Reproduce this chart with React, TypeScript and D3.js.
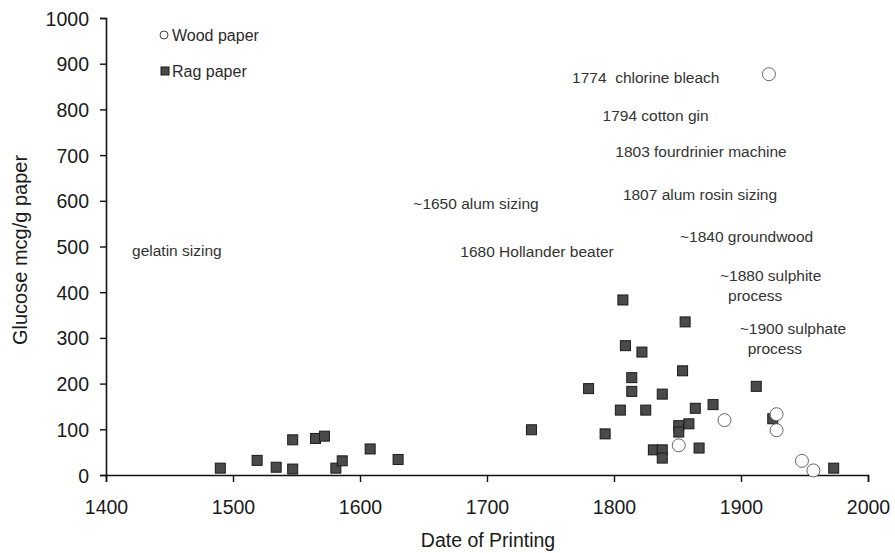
import React, { useEffect, useRef } from "react"
import * as d3 from "d3"

// rag paper samples (square markers)
const ragYears = [
  1490, 1519, 1534, 1547, 1547, 1565, 1572, 1581, 1586, 1608, 1630,
  1735, 1780, 1793, 1805, 1807, 1809, 1814, 1814, 1822, 1825, 1831,
  1838, 1838, 1838, 1851, 1851, 1854, 1856, 1859, 1864, 1867, 1878,
  1912, 1925, 1973,
]
const ragGlucose = [
  15, 32, 17, 77, 13, 80, 85, 15, 31, 57, 34,
  99, 189, 90, 142, 383, 283, 213, 183, 269, 142, 55,
  177, 55, 37, 108, 94, 228, 335, 112, 146, 59, 154,
  194, 123, 15,
]

// wood paper samples (open circles)
const woodYears = [1851, 1887, 1922, 1928, 1928, 1948, 1957]
const woodGlucose = [65, 120, 877, 133, 98, 31, 10]

const xTicks = [1400, 1500, 1600, 1700, 1800, 1900, 2000]
const yTicks = [0, 100, 200, 300, 400, 500, 600, 700, 800, 900, 1000]

// historical notes, anchored in (year, glucose) units
const noteText = [
  "1774  chlorine bleach",
  "1794 cotton gin",
  "1803 fourdrinier machine",
  "1807 alum rosin sizing",
  "~1840 groundwood",
  "~1880 sulphite",
  "~1900 sulphate",
  "~1650 alum sizing",
  "gelatin sizing",
  "1680 Hollander beater",
]
const noteYear = [1767, 1791, 1801, 1807, 1852, 1883.5, 1899, 1642, 1420.5, 1679]
const noteGlucose = [857, 774, 695, 602, 510, 424, 308, 582, 479, 477]
const noteSecondLine = ["", "", "", "", "", "process", "process", "", "", ""]

const W = 895
const H = 553
const FONT = "'Liberation Sans', Arial, sans-serif"

const drawChart = (el) => {
  d3.select(el).selectAll("*").remove()
  const svg = d3.select(el)

  const x = d3.scaleLinear().domain([1400, 2000]).range([106, 868])
  const y = d3.scaleLinear().domain([0, 1000]).range([475, 18])

  // axes
  const xAxis = svg
    .append("g")
    .attr("transform", `translate(0,${y(0)})`)
    .call(d3.axisBottom(x).tickValues(xTicks).tickFormat(d3.format("d")).tickSizeOuter(0).tickSize(7).tickPadding(18))
  const yAxis = svg
    .append("g")
    .attr("transform", `translate(${x(1400)},0)`)
    .call(d3.axisLeft(y).tickValues(yTicks).tickFormat(d3.format("d")).tickSizeOuter(0).tickSize(6).tickPadding(11))
  ;[xAxis, yAxis].forEach(g => {
    g.select(".domain").attr("stroke", "#111").attr("stroke-width", 1.6)
    g.selectAll(".tick line").attr("stroke", "#111").attr("stroke-width", 1.4)
    g.selectAll(".tick text")
      .attr("fill", "#1a1a1a")
      .style("font-family", FONT)
      .style("font-size", "19.5px")
  })
  yAxis.selectAll(".tick text").attr("dy", "0.36em")

  svg
    .append("text")
    .attr("x", 488)
    .attr("y", 547)
    .attr("text-anchor", "middle")
    .style("font-family", FONT)
    .style("font-size", "19.5px")
    .attr("fill", "#1a1a1a")
    .text("Date of Printing")

  svg
    .append("text")
    .attr("transform", "translate(27,250) rotate(-90)")
    .attr("text-anchor", "middle")
    .style("font-family", FONT)
    .style("font-size", "20px")
    .attr("fill", "#1a1a1a")
    .text("Glucose mcg/g paper")

  // annotations
  const notes = svg.append("g").style("font-family", FONT).style("font-size", "15.5px").attr("fill", "#333")
  noteText.forEach((t, i) => {
    const nx = x(noteYear[i])
    const ny = y(noteGlucose[i])
    notes.append("text").attr("x", nx).attr("y", ny).attr("xml:space", "preserve").style("white-space", "pre").text(t)
    if (noteSecondLine[i]) {
      notes.append("text").attr("x", nx + 8).attr("y", ny + 20).text(noteSecondLine[i])
    }
  })

  // rag paper squares
  const sq = 10
  svg
    .append("g")
    .selectAll("rect")
    .data(d3.zip(ragYears, ragGlucose))
    .enter()
    .append("rect")
    .attr("x", d => x(d[0]) - sq / 2)
    .attr("y", d => y(d[1]) - sq / 2)
    .attr("width", sq)
    .attr("height", sq)
    .attr("fill", "#4a4a4a")
    .attr("stroke", "#1a1a1a")
    .attr("stroke-width", 1)

  // wood paper circles
  svg
    .append("g")
    .selectAll("circle")
    .data(d3.zip(woodYears, woodGlucose))
    .enter()
    .append("circle")
    .attr("cx", d => x(d[0]))
    .attr("cy", d => y(d[1]))
    .attr("r", 6.5)
    .attr("fill", "white")
    .attr("stroke", "#666")
    .attr("stroke-width", 1)

  // legend
  const legend = svg.append("g").style("font-family", FONT).style("font-size", "16px").attr("fill", "#2a2a2a")
  legend.append("circle").attr("cx", 164).attr("cy", 35).attr("r", 4).attr("fill", "white").attr("stroke", "#444")
  legend.append("text").attr("x", 172).attr("y", 41).text("Wood paper")
  legend.append("rect").attr("x", 161).attr("y", 67).attr("width", 8).attr("height", 8).attr("fill", "#4a4a4a").attr("stroke", "#1a1a1a")
  legend.append("text").attr("x", 172).attr("y", 77).text("Rag paper")
}

export default function App() {
  const ref = useRef(null)
  useEffect(() => {
    drawChart(ref.current)
  }, [])

  return (
    <svg
      ref={ref}
      width={W}
      height={H}
      style={{ position: "absolute", left: 0, top: 0, background: "white" }}
    ></svg>
  )
}
